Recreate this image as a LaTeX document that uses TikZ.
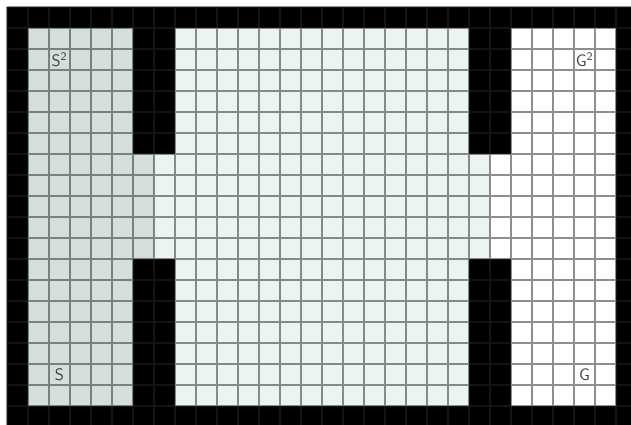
\documentclass[tikz,border=0pt]{standalone}
\usepackage{tikz}

\definecolor{roomA}{RGB}{212,222,218}
\definecolor{roomB}{RGB}{236,243,243}
\definecolor{roomC}{RGB}{255,255,255}
\definecolor{gridline}{RGB}{38,42,42}

\begin{document}
\begin{tikzpicture}[
  x=0.6cm, y=-0.6cm,
  wall/.style={fill=black},
  cellgrid/.style={draw=gridline, draw opacity=0.52, line width=1pt, step=0.6cm},
  tag/.style={font=\sffamily\fontsize{13.5}{13.5}\selectfont, text=black!75, inner sep=0pt}
]
  \useasboundingbox (-1/3,-1/3) rectangle (29.714,19.857);
  \clip (-1/3,-1/3) rectangle (29.714,19.857);
  \fill[white] (-1/3,-1/3) rectangle (29.714,19.857);
  \fill[wall] (0,0) rectangle (30,20);
  \fill[roomA] (1,1) rectangle (6,19);
  \fill[roomA] (6,7) rectangle (7,12);
  \fill[roomB] (7,7) rectangle (8,12);
  \fill[roomB] (8,1) rectangle (22,19);
  \fill[roomB] (22,7) rectangle (23,12);
  \fill[roomC] (23,7) rectangle (24,12);
  \fill[roomC] (24,1) rectangle (29,19);
  \draw[cellgrid] (0,0) grid (30,20);
  \node[tag] (s2) at (2.5,2.5) {S\textsuperscript{2}};
  \node[tag] (s) at (2.5,17.5) {S};
  \node[tag] (g2) at (27.5,2.5) {G\textsuperscript{2}};
  \node[tag] (g) at (27.5,17.5) {G};
\end{tikzpicture}
\end{document}
